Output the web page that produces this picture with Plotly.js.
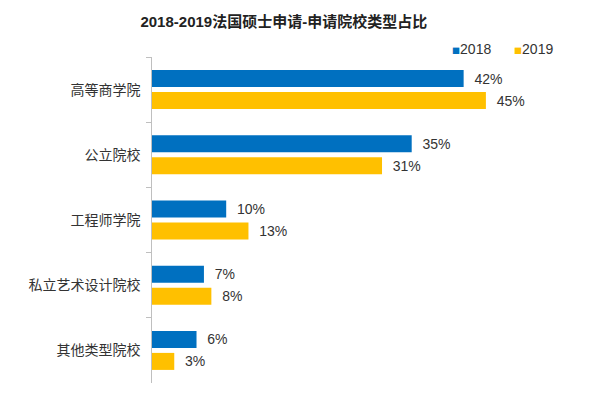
<!DOCTYPE html>
<html><head><meta charset="utf-8">
<script src="https://cdn.plot.ly/plotly-3.0.1.min.js"></script>
<style>html,body{margin:0;padding:0;background:#fff}</style>
</head><body><div id="chart" style="width:600px;height:399px"></div>
<script>
const categories = ['高等商学院','公立院校','工程师学院','私立艺术设计院校','其他类型院校'];
const values2018 = [42,35,10,7,6];
const values2019 = [45,31,13,8,3];
const seriesNames = ['2018','2019'];
const colors = ['#0070C0','#FFC000'];
const font = '"Liberation Sans", Arial, "Noto Sans CJK SC", sans-serif';
function lbl(v){return v.map(x=>'  '+x+'%');}
const traces = [
 {type:'bar',orientation:'h',name:seriesNames[0],y:categories,x:values2018,text:lbl(values2018),textposition:'outside',cliponaxis:false,
  marker:{color:colors[0]},textfont:{size:14,color:'#333',family:font},hoverinfo:'none',showlegend:false},
 {type:'bar',orientation:'h',name:seriesNames[1],y:categories,x:values2019,text:lbl(values2019),textposition:'outside',cliponaxis:false,
  marker:{color:colors[1]},textfont:{size:14,color:'#333',family:font},hoverinfo:'none',showlegend:false}
];
seriesNames.forEach((n,i)=>{
  traces.push({type:'scatter',mode:'markers',x:[null],y:[null],
    name:'<span style="color:'+colors[i]+';font-size:8px;font-family:Noto Sans CJK SC">■</span>'+n,
    marker:{color:'rgba(0,0,0,0)',size:1,line:{width:0}},hoverinfo:'none',showlegend:true});
});
// spacer entry so the last legend item is not clipped
traces.push({type:'scatter',mode:'markers',x:[null],y:[null],name:'\u00a0',
  marker:{color:'rgba(0,0,0,0)',size:1,line:{width:0}},hoverinfo:'none',showlegend:true});
const layout = {
 width:600,height:399,margin:{l:152,r:77,t:57,b:16,autoexpand:false},
 paper_bgcolor:'#fff',plot_bgcolor:'#fff',
 font:{family:font,color:'#333'},
 title:{text:'<b>2018-2019法国硕士申请-申请院校类型占比</b>',x:0.473,xref:'container',xanchor:'center',y:0.945,yanchor:'middle',yref:'container',font:{size:15,color:'#222',family:font}},
 barmode:'group',bargap:0.325,bargroupgap:0.227,
 xaxis:{range:[0,50],visible:false,fixedrange:true},
 yaxis:{autorange:'reversed',showline:true,linecolor:'#BFBFBF',linewidth:1,ticks:'outside',tickson:'boundaries',ticklen:5,tickcolor:'#BFBFBF',
  tickfont:{size:14,color:'#333',family:font},ticksuffix:'  ',showgrid:false,zeroline:false},
 legend:{orientation:'h',x:0.701,xanchor:'left',y:1.0245,yanchor:'middle',font:{size:14,color:'#333',family:font},itemwidth:30,entrywidth:17,traceorder:'normal',
  tracegroupgap:0,itemclick:false},
 showlegend:true
};
Plotly.newPlot('chart',traces,layout,{displayModeBar:false,staticPlot:true});
</script></body></html>
